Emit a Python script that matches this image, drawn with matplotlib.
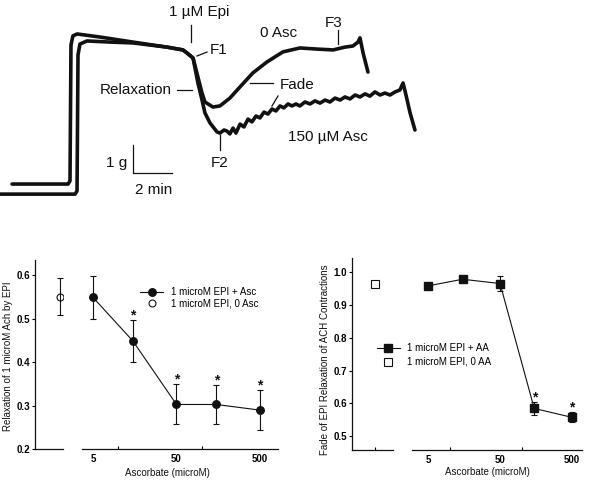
import numpy as np
import matplotlib
matplotlib.use("Agg")
from matplotlib import pyplot as plt
from matplotlib.lines import Line2D
from matplotlib.ticker import NullFormatter

plt.rcParams['font.family'] = ['Liberation Sans', 'DejaVu Sans']

# ---- top panel: tension traces (minutes, grams) ----
trace0_t = [0.62, 3.49, 3.59, 3.64, 3.74, 3.95, 5.13, 6.82, 8.56, 9.38, 9.59, 9.90, 10.15,
            10.36, 10.51, 10.92, 11.28, 11.79, 12.31, 12.97, 13.69, 14.51, 15.38, 16.26,
            17.08, 17.69, 18.10, 18.36, 18.46, 18.62, 18.87]
trace0_g = [0.57, 0.57, 0.68, 5.54, 5.86, 5.93, 5.82, 5.64, 5.46, 5.36, 5.25, 5.07, 4.39,
            3.82, 3.50, 3.32, 3.36, 3.64, 4.04, 4.54, 4.93, 5.29, 5.43, 5.39,
            5.36, 5.46, 5.50, 5.64, 5.79, 5.25, 4.57]

trace150_t = [0.00, 3.85, 3.95, 4.00, 4.10, 4.46, 5.64, 6.82, 8.56, 9.38,
              9.59, 9.90, 10.15, 10.36, 10.51, 10.77, 11.13, 11.28, 11.49, 11.64,
              11.79, 11.95, 12.10, 12.31, 12.51, 12.72, 12.92, 13.13, 13.33, 13.54,
              13.74, 13.95, 14.15, 14.36, 14.56, 14.77, 14.97, 15.18, 15.38, 15.64,
              15.90, 16.15, 16.41, 16.67, 16.92, 17.18, 17.44, 17.69, 17.95, 18.21,
              18.46, 18.72, 18.97, 19.23, 19.49, 19.74, 20.00, 20.26, 20.51, 20.67,
              20.82, 21.03, 21.28]
trace150_g = [0.21, 0.21, 0.32, 5.18, 5.57, 5.68, 5.64, 5.61, 5.46, 5.36,
              5.25, 5.07, 4.18, 3.57, 3.11, 2.75, 2.43, 2.39, 2.50, 2.46,
              2.36, 2.57, 2.39, 2.71, 2.61, 2.89, 2.79, 3.00, 2.93, 3.14,
              3.07, 3.25, 3.18, 3.36, 3.29, 3.43, 3.36, 3.43, 3.36, 3.50,
              3.43, 3.54, 3.46, 3.57, 3.50, 3.64, 3.57, 3.68, 3.61, 3.75,
              3.68, 3.79, 3.71, 3.86, 3.75, 3.82, 3.75, 3.86, 3.93, 4.18,
              3.75, 3.11, 2.50]

# ---- bottom panels ----
asc = [5, 15, 50, 150, 500]
relax = [0.549, 0.449, 0.303, 0.303, 0.290]
relax_err = [0.050, 0.048, 0.046, 0.044, 0.046]
relax_0asc = 0.551
relax_0asc_err = 0.042
relax_sig = [False, True, True, True, True]

fade = [0.959, 0.979, 0.966, 0.584, 0.557]
fade_err = [0.004, 0.004, 0.023, 0.020, 0.015]
fade_0aa = 0.964
fade_sig = [False, False, False, True, True]

W, H = 594, 484
fig = plt.figure(figsize=(W / 100, H / 100), dpi=100)


def fx(px):
    return px / W


def fy(py):
    return 1 - py / H


ink = '#111111'

# top trace panel
axT = fig.add_axes([0, fy(200), 1, 200 / H])
axT.set_xlim(0, W / 19.5)
axT.set_ylim(0, 200 / 28)
axT.axis('off')
axT.plot(trace0_t, trace0_g, color=ink, lw=2.6, solid_joinstyle='round', solid_capstyle='round')
axT.plot(trace150_t, trace150_g, color=ink, lw=2.6, solid_joinstyle='round', solid_capstyle='round')

# scale bar: 1 g, 2 min
axT.plot([6.82, 6.82, 8.82], [1.96, 0.96, 0.96], color=ink, lw=0.9)


def tlabel(px, py, s, ha='left'):
    fig.text(fx(px), fy(py), s, ha=ha, va='center', fontsize=11, color=ink)


def tline(x0, y0, x1, y1):
    fig.add_artist(Line2D([fx(x0), fx(x1)], [fy(y0), fy(y1)], color=ink, lw=0.9))


tlabel(199, 12, '1 \u00b5M Epi', ha='center')
tline(191, 25, 191, 42)
tlabel(210, 50, 'F1')
tline(197, 56, 207, 52)
tlabel(260, 33, '0 Asc')
tlabel(325, 23, 'F3')
tline(338, 30, 338, 44)
tlabel(172, 90, 'Relaxation', ha='right')
tline(177, 90, 192, 90)
tlabel(280, 85, 'Fade')
tline(250, 83, 273, 83)
tline(272, 106, 278, 96)
tlabel(220, 163, 'F2', ha='center')
tline(220, 135, 220, 150)
tlabel(288, 137, '150 \u00b5M Asc')
tlabel(127, 163, '1 g', ha='right')
tlabel(135, 190, '2 min')


def style_axes(ax0, ax1, xlim_main):
    for s in ['top', 'right']:
        ax0.spines[s].set_visible(False)
    for s in ['top', 'right', 'left']:
        ax1.spines[s].set_visible(False)
    for ax in (ax0, ax1):
        for s in ax.spines.values():
            s.set_linewidth(0.9)
            s.set_color(ink)
    ax1.set_xscale('log')
    ax1.set_xlim(*xlim_main)
    ax1.set_xticks([5, 50, 500])
    ax1.set_xticklabels(['5', '50', '500'])
    ax1.set_xticks([10, 100], minor=True)
    ax1.xaxis.set_minor_formatter(NullFormatter())
    ax1.tick_params(axis='x', which='major', length=0, labelsize=7)
    ax1.tick_params(axis='x', which='minor', direction='in', length=2.5, width=0.8)
    ax1.tick_params(axis='y', left=False, labelleft=False)
    ax0.tick_params(axis='y', direction='out', length=2.5, width=0.8, pad=1, labelsize=7)
    for lab in ax0.get_yticklabels() + ax1.get_xticklabels():
        lab.set_fontweight('bold')
    ax0.set_facecolor('none')
    ax1.set_facecolor('none')


def stars(ax, xs, ys, errs, flags):
    for x, y, e, f in zip(xs, ys, errs, flags):
        if f:
            ax.annotate('*', (x, y + e), xytext=(0, 3.5), textcoords='offset points',
                        ha='center', va='center', fontsize=10, fontweight='bold', color=ink)


# left bottom panel
h = (449.3 - 260) / H
axL0 = fig.add_axes([fx(35), fy(449.3), 28 / W, h])
axL = fig.add_axes([fx(82), fy(449.3), 196 / W, h], sharey=axL0)
axL0.set_xlim(-25, 3)
axL0.set_ylim(0.2, 0.635)
axL0.set_yticks([0.2, 0.3, 0.4, 0.5, 0.6])
style_axes(axL0, axL, (3.69, 822))
axL0.set_xticks([])

lL1, = axL.plot(asc, relax, '-o', color=ink, lw=0.8, ms=5.4, label='1 microM EPI + Asc')
axL.errorbar(asc, relax, yerr=relax_err, fmt='none', ecolor=ink, elinewidth=0.8,
             capsize=2, capthick=0.8)
lL2, = axL0.plot([0], [relax_0asc], 'o', color=ink, mfc='white', mew=0.8, ms=5,
                 label='1 microM EPI, 0 Asc')
axL0.errorbar([0], [relax_0asc], yerr=[relax_0asc_err], fmt='none', ecolor=ink,
              elinewidth=0.8, capsize=2, capthick=0.8)
stars(axL, asc, relax, relax_err, relax_sig)
fig.legend(handles=[lL1, lL2], loc='center left', bbox_to_anchor=(fx(140), fy(297.7)),
           frameon=False, fontsize=7, handlelength=2.4, handletextpad=0.75,
           labelspacing=0.15, borderpad=0, borderaxespad=0)
fig.text(fx(8.5), fy(355.8), 'Relaxation of 1 microM Ach by EPI', rotation=90,
         ha='center', va='center', fontsize=7, color=ink)
fig.text(fx(167), fy(473), 'Ascorbate (microM)', ha='center', va='center',
         fontsize=7, color=ink)

# right bottom panel
h = (450 - 258) / H
axR0 = fig.add_axes([fx(351.7), fy(450), 41 / W, h])
axR = fig.add_axes([fx(411.7), fy(450), 170 / W, h], sharey=axR0)
axR0.set_xlim(-23, 18)
axR0.set_ylim(0.457, 1.044)
axR0.set_yticks([0.5, 0.6, 0.7, 0.8, 0.9, 1.0])
style_axes(axR0, axR, (2.93, 689))
axR0.set_xticks([0])
axR0.set_xticklabels([])
axR0.tick_params(axis='x', direction='in', length=2.5, width=0.8)

lR1, = axR.plot(asc, fade, '-s', color=ink, lw=0.8, ms=5.6, label='1 microM EPI + AA')
axR.errorbar(asc, fade, yerr=fade_err, fmt='none', ecolor=ink, elinewidth=0.8,
             capsize=2, capthick=0.8)
lR2, = axR0.plot([0], [fade_0aa], 's', color=ink, mfc='white', mew=0.8, ms=5.2,
                 label='1 microM EPI, 0 AA')
stars(axR, asc, fade, fade_err, fade_sig)
fig.legend(handles=[lR1, lR2], loc='center left', bbox_to_anchor=(fx(376.7), fy(355)),
           frameon=False, fontsize=7, handlelength=2.4, handletextpad=0.75,
           labelspacing=0.4, borderpad=0, borderaxespad=0)
fig.text(fx(325), fy(360), 'Fade of EPI Relaxation of ACH Contractions', rotation=90,
         ha='center', va='center', fontsize=7, color=ink)
fig.text(fx(487), fy(472), 'Ascorbate (microM)', ha='center', va='center',
         fontsize=7, color=ink)

fig.savefig('out.png', dpi=100, facecolor='white')
